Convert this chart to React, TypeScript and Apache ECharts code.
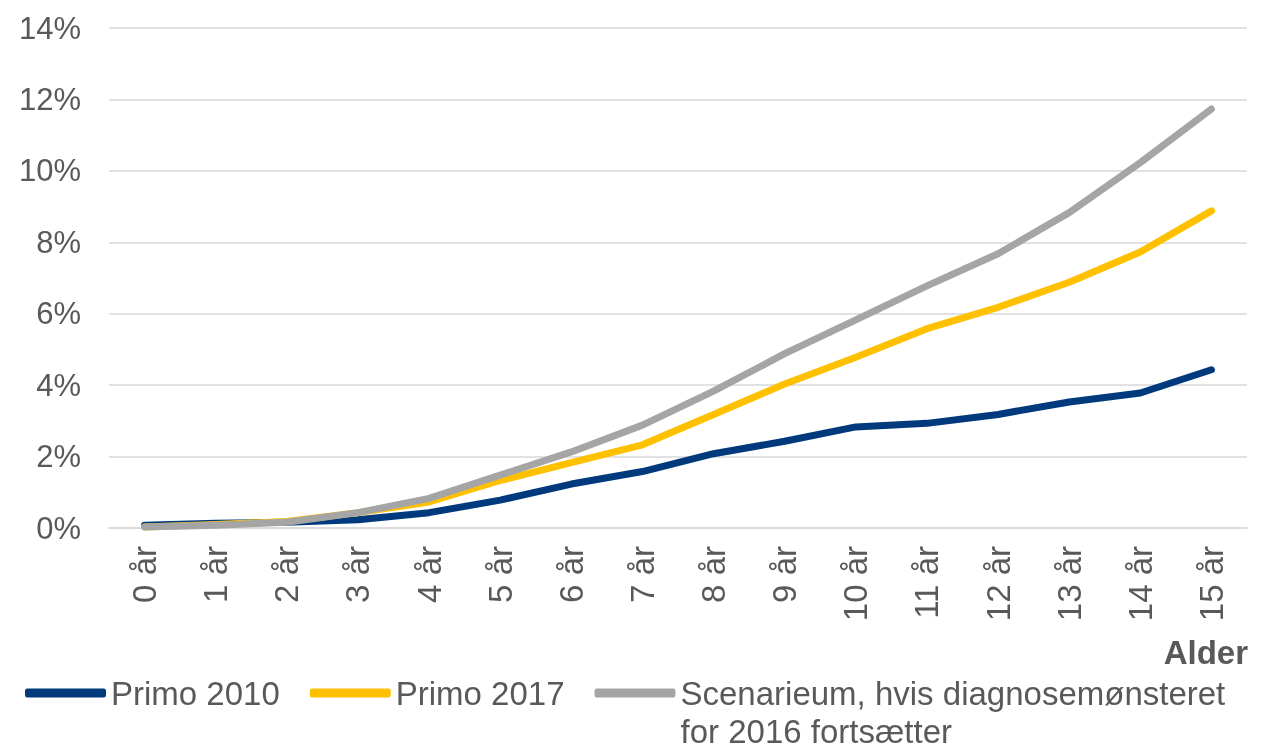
import React, { useEffect, useRef } from "react";
import * as echarts from "echarts";

const categories = ["0 år", "1 år", "2 år", "3 år", "4 år", "5 år", "6 år", "7 år", "8 år", "9 år", "10 år", "11 år", "12 år", "13 år", "14 år", "15 år"];
const primo2010 = [0.08, 0.13, 0.16, 0.23, 0.43, 0.78, 1.23, 1.58, 2.08, 2.43, 2.83, 2.93, 3.18, 3.53, 3.78, 4.43];
const primo2017 = [0.03, 0.10, 0.18, 0.43, 0.73, 1.33, 1.83, 2.33, 3.18, 4.03, 4.78, 5.58, 6.18, 6.88, 7.73, 8.88];
const scenarie = [0.03, 0.08, 0.16, 0.43, 0.83, 1.48, 2.13, 2.88, 3.83, 4.88, 5.83, 6.78, 7.68, 8.83, 10.23, 11.73];
const seriesNames = ["Primo 2010", "Primo 2017", "Scenarieum, hvis diagnosemønsteret\nfor 2016 fortsætter"];
const yTicks = { min: 0, max: 14, interval: 2 };

const FONT = "'Liberation Sans', Arial, sans-serif";
const TXT = "#595959";

export default function App() {
  const ref = useRef<HTMLDivElement>(null);
  useEffect(() => {
    if (!ref.current) return;
    const chart = echarts.init(ref.current, undefined, { renderer: "svg" });
    const colors = ["#003A7D", "#FFC000", "#A5A5A5"];
    const data = [primo2010, primo2017, scenarie];
    chart.setOption({
      animation: false,
      textStyle: { fontFamily: FONT },
      grid: { left: 109, right: 21, top: 28, bottom: 224, containLabel: false },
      xAxis: {
        type: "category",
        data: categories,
        boundaryGap: true,
        axisLine: { show: true, lineStyle: { color: "#D9D9D9", width: 1.5 } },
        axisTick: { show: false },
        axisLabel: { rotate: 90, interval: 0, fontSize: 33, color: TXT, margin: 18, fontFamily: FONT },
      },
      yAxis: {
        type: "value",
        min: yTicks.min,
        max: yTicks.max,
        interval: yTicks.interval,
        axisLine: { show: false },
        axisTick: { show: false },
        axisLabel: { formatter: "{value}%", fontSize: 31, color: TXT, margin: 28, fontFamily: FONT },
        splitLine: { lineStyle: { color: "#D9D9D9", width: 1.5 } },
      },
      legend: {
        left: 25,
        top: 636,
        width: 1260,
        orient: "horizontal",
        itemWidth: 81,
        itemHeight: 9,
        itemGap: 30,
        padding: 0,
        icon: "roundRect",
        textStyle: { fontSize: 33, color: TXT, fontFamily: FONT, lineHeight: 38 },
        formatter: (name: string) => (name.indexOf("\n") >= 0 ? "\n" + name : name),
        data: seriesNames,
      },
      graphic: [
        {
          type: "text",
          right: 20,
          top: 636,
          style: { text: "Alder", fontSize: 33, fontWeight: "bold", fill: TXT, fontFamily: FONT },
        },
      ],
      series: data.map((d, i) => ({
        name: seriesNames[i],
        type: "line",
        data: d,
        showSymbol: false,
        symbol: "none",
        lineStyle: { color: colors[i], width: 7, cap: "round", join: "round" },
        itemStyle: { color: colors[i] },
      })),
    });
    return () => chart.dispose();
  }, []);
  return <div ref={ref} style={{ position: "fixed", left: 0, top: 0, width: 1268, height: 752 }} />;
}
